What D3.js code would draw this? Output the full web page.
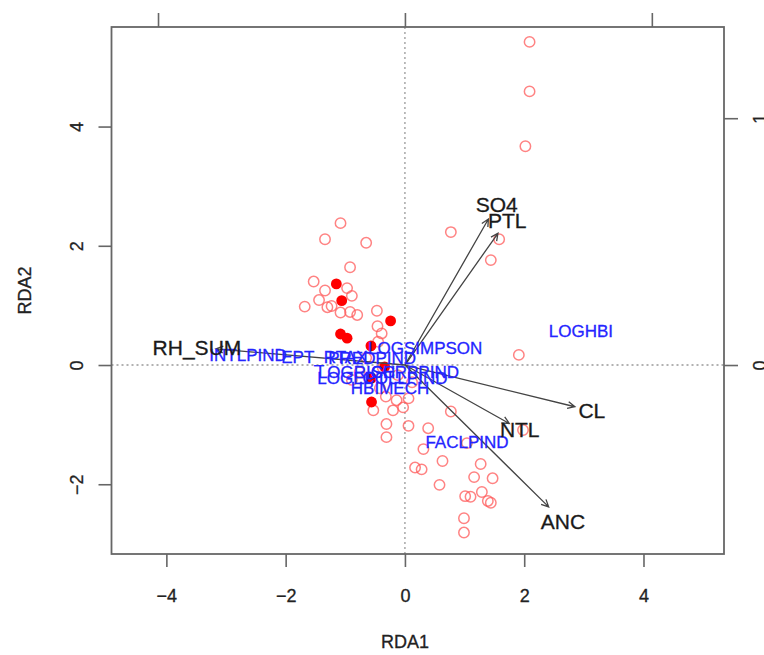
<!DOCTYPE html>
<html>
<head>
<meta charset="utf-8">
<script src="https://cdn.jsdelivr.net/npm/d3@7"></script>
<style>
  body { margin: 0; background: #fff; }
  text { font-family: "Liberation Sans", Arial, sans-serif; }
</style>
</head>
<body>
<div id="chart"></div>
<script>
// site scores (RDA1, RDA2), open circles
const siteX = [-1.08,-1.34,-0.65,0.77,-0.92,-1.53,-1.34,-0.97,-0.89,-1.44,-1.68,-1.30,-1.23,-1.08,-0.92,-0.80,-0.47,-0.46,-0.39,
  -0.32,-0.14,0.06,-0.53,-0.20,-0.03,-0.31,0.06,0.39,0.77,-0.31,1.98,1.04,0.31,0.17,0.28,0.63,1.27,1.16,1.47,0.58,1.01,1.10,1.29,1.44,1.39,0.99,0.99,
  2.09,2.09,2.02,1.58,1.44,1.91,-0.65,-0.37,-0.76,-0.12,-0.89,-0.42,0.12,-0.45];
const siteY = [2.38,2.11,2.05,2.23,1.64,1.40,1.25,1.29,1.16,1.09,0.98,0.97,0.99,0.88,0.89,0.84,0.91,0.65,0.53,
  -0.53,-0.59,-0.56,-0.76,-0.76,-0.71,-0.99,-1.02,-1.06,-0.78,-1.21,-1.09,-1.31,-1.41,-1.72,-1.75,-1.61,-1.66,-1.88,-1.90,-2.01,-2.20,-2.21,-2.13,-2.31,-2.28,-2.57,-2.81,
  5.42,4.59,3.67,2.11,1.76,0.17,0.12,-0.05,-0.12,-0.17,-0.25,-0.39,-0.29,0.39];

// highlighted sites, filled circles
const fillX = [-1.15,-1.06,-0.24,-1.08,-0.97,-0.57,-0.56,-0.34,-0.56];
const fillY = [1.36,1.08,0.74,0.52,0.45,0.32,-0.62,-0.03,-0.22];

// species scores (blue text)
const specNames = ["INTLPIND","EPT_RTAX","LOGSIMPSON","PREDPIND","LOGRICH","SCRPPIND","LOGEPT","COLLPIND","HBIMECH","FACLPIND","LOGHBI"];
const specX = [-2.63,-1.35,0.34,-0.55,-0.81,0.17,-0.89,0.00,-0.25,1.04,2.95];
const specY = [0.17,0.13,0.29,0.12,-0.12,-0.12,-0.22,-0.22,-0.39,-1.29,0.57];

// environmental arrows (tips), labels at 1.1 x tip
const envNames = ["SO4","PTL","CL","NTL","ANC","RH_SUM"];
const envX = [1.40,1.56,2.85,1.75,2.41,-3.17];
const envY = [2.45,2.21,-0.70,-0.98,-2.38,0.27];

const xTicks = [-4,-2,0,2,4];
const yTicks = [-2,0,2,4];
const topTicks = [-1,0,1];
const rightTicks = [0,1];
const xLim = [-4.92, 5.35];
const yLim = [-3.17, 5.67];
const mult = 4.14; // ratio of site to species axis scale

const W = 764, H = 655;
const box = { left: 111.5, right: 724, top: 27, bottom: 554 };

const svg = d3.select("#chart").append("svg")
    .attr("width", W).attr("height", H);

const x = d3.scaleLinear().domain(xLim).range([box.left, box.right]);
const y = d3.scaleLinear().domain(yLim).range([box.bottom, box.top]);
const x2 = d3.scaleLinear().domain(xLim.map(v => v / mult)).range([box.left, box.right]);
const y2 = d3.scaleLinear().domain(yLim.map(v => v / mult)).range([box.bottom, box.top]);

const fmt = d => d < 0 ? "\u2212" + Math.abs(d) : String(d);
const axisColor = "#666";

// zero lines
svg.append("line")
    .attr("x1", x(0)).attr("x2", x(0)).attr("y1", box.top).attr("y2", box.bottom)
    .attr("stroke", "#999").attr("stroke-width", 1.3).attr("stroke-dasharray", "2,3");
svg.append("line")
    .attr("x1", box.left).attr("x2", box.right).attr("y1", y(0)).attr("y2", y(0))
    .attr("stroke", "#999").attr("stroke-width", 1.3).attr("stroke-dasharray", "2,3");

// axes
function styleAxis(g) {
    g.select(".domain").remove();
    g.selectAll(".tick line").attr("stroke", axisColor).attr("stroke-width", 1.6);
    g.selectAll(".tick text").attr("fill", "#222").attr("font-size", "18px")
        .attr("stroke", "#222").attr("stroke-width", 0.3)
        .style("font-family", "'Liberation Sans', Arial, sans-serif");
}

svg.append("g")
    .attr("transform", `translate(0,${box.bottom})`)
    .call(d3.axisBottom(x).tickValues(xTicks).tickFormat(fmt).tickSize(13).tickPadding(22))
    .call(styleAxis);

// top axis: labels fall outside the page, only ticks show
svg.append("g")
    .attr("transform", `translate(0,${box.top})`)
    .call(d3.axisTop(x2).tickValues(topTicks).tickFormat("").tickSize(14))
    .call(styleAxis);

const left = svg.append("g")
    .attr("transform", `translate(${box.left},0)`)
    .call(d3.axisLeft(y).tickValues(yTicks).tickFormat(fmt).tickSize(13))
    .call(styleAxis);
left.selectAll(".tick text")
    .attr("x", null).attr("dy", null)
    .attr("text-anchor", "middle")
    .attr("transform", "translate(-29,0) rotate(-90)");

const right = svg.append("g")
    .attr("transform", `translate(${box.right},0)`)
    .call(d3.axisRight(y2).tickValues(rightTicks).tickFormat(fmt).tickSize(14))
    .call(styleAxis);
right.selectAll(".tick text")
    .attr("x", null).attr("dy", null)
    .attr("text-anchor", "middle")
    .attr("transform", "translate(42,0) rotate(-90)");

// box
svg.append("rect")
    .attr("x", box.left).attr("y", box.top)
    .attr("width", box.right - box.left).attr("height", box.bottom - box.top)
    .attr("fill", "none").attr("stroke", axisColor).attr("stroke-width", 1.8);

// axis titles
svg.append("text")
    .attr("x", x(0)).attr("y", 648)
    .attr("text-anchor", "middle").attr("font-size", "18px").attr("fill", "#222")
    .attr("stroke", "#222").attr("stroke-width", 0.3)
    .text("RDA1");
svg.append("text")
    .attr("transform", `translate(31,${(box.top + box.bottom) / 2}) rotate(-90)`)
    .attr("text-anchor", "middle").attr("font-size", "18px").attr("fill", "#222")
    .attr("stroke", "#222").attr("stroke-width", 0.3)
    .text("RDA2");

// sites
const sites = siteX.map((v, i) => ({ x: v, y: siteY[i] }));
svg.selectAll(".site")
    .data(sites)
    .enter().append("circle")
    .attr("class", "site")
    .attr("cx", d => x(d.x)).attr("cy", d => y(d.y))
    .attr("r", 5.2)
    .attr("fill", "none")
    .attr("stroke", "#ff5a5a").attr("stroke-opacity", 0.75).attr("stroke-width", 1.5);

const filled = fillX.map((v, i) => ({ x: v, y: fillY[i] }));
svg.selectAll(".hl")
    .data(filled)
    .enter().append("circle")
    .attr("class", "hl")
    .attr("cx", d => x(d.x)).attr("cy", d => y(d.y))
    .attr("r", 5.4)
    .attr("fill", "#ff0000");

// biplot arrows
const env = envNames.map((n, i) => ({ name: n, x: envX[i], y: envY[i] }));
const arrowG = svg.append("g");
env.forEach(d => {
    const x0 = x(0), y0 = y(0), x1 = x(d.x), y1 = y(d.y);
    const ang = Math.atan2(y1 - y0, x1 - x0);
    const len = 8, spread = Math.PI / 7;
    const p = `M${x0},${y0}L${x1},${y1}` +
        `M${x1 - len * Math.cos(ang - spread)},${y1 - len * Math.sin(ang - spread)}L${x1},${y1}` +
        `L${x1 - len * Math.cos(ang + spread)},${y1 - len * Math.sin(ang + spread)}`;
    arrowG.append("path").attr("d", p)
        .attr("fill", "none").attr("stroke", "#444").attr("stroke-width", 1.3);
});

// species labels
const spec = specNames.map((n, i) => ({ name: n, x: specX[i], y: specY[i] }));
svg.selectAll(".spec")
    .data(spec)
    .enter().append("text")
    .attr("class", "spec")
    .attr("x", d => x(d.x)).attr("y", d => y(d.y))
    .attr("dy", "0.36em")
    .attr("text-anchor", "middle")
    .attr("font-size", "17px")
    .attr("fill", "#2424ff")
    .attr("stroke", "#2424ff").attr("stroke-width", 0.3)
    .text(d => d.name);

// env labels
svg.selectAll(".env")
    .data(env)
    .enter().append("text")
    .attr("class", "env")
    .attr("x", d => x(1.1 * d.x)).attr("y", d => y(1.1 * d.y))
    .attr("dy", "0.36em")
    .attr("text-anchor", "middle")
    .attr("font-size", "21px")
    .attr("fill", "#1a1a1a")
    .attr("stroke", "#1a1a1a").attr("stroke-width", 0.3)
    .text(d => d.name);
</script>
</body>
</html>
